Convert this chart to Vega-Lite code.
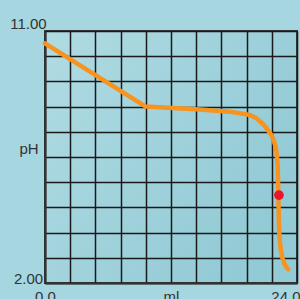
{
  "$schema": "https://vega.github.io/schema/vega-lite/v6.json",
  "width": 252,
  "height": 252,
  "autosize": "none",
  "padding": {"left": 45, "top": 31, "right": 3, "bottom": 16},
  "background": "#a6d6df",
  "config": {
    "view": {
      "stroke": "#3a3a3a",
      "strokeWidth": 2,
      "fill": {
        "gradient": "linear",
        "x1": 0, "y1": 0, "x2": 1, "y2": 0.6,
        "stops": [
          {"offset": 0, "color": "#b0dbe3"},
          {"offset": 1, "color": "#92cad5"}
        ]
      }
    },
    "axis": {
      "labelFont": "Liberation Sans",
      "titleFont": "Liberation Sans",
      "labelFontSize": 15,
      "titleFontSize": 15,
      "labelColor": "#333333",
      "titleColor": "#333333",
      "titleFontWeight": "normal",
      "gridColor": "#1a1a1a",
      "gridWidth": 1.5,
      "gridOpacity": 1,
      "domainColor": "#333333",
      "domainWidth": 2,
      "ticks": false,
      "tickSize": 0
    }
  },
  "data": {
    "values": [
      {"ml": 0, "pH": 10.56},
      {"ml": 9.59, "pH": 8.30},
      {"ml": 14.74, "pH": 8.20},
      {"ml": 17.61, "pH": 8.12},
      {"ml": 19.51, "pH": 8.0},
      {"ml": 20.1, "pH": 7.89},
      {"ml": 20.47, "pH": 7.78},
      {"ml": 20.9, "pH": 7.62},
      {"ml": 21.23, "pH": 7.46},
      {"ml": 21.52, "pH": 7.3},
      {"ml": 21.74, "pH": 7.14},
      {"ml": 21.92, "pH": 6.92},
      {"ml": 22.06, "pH": 6.66},
      {"ml": 22.16, "pH": 6.21},
      {"ml": 22.22, "pH": 5.21},
      {"ml": 22.28, "pH": 4.01},
      {"ml": 22.36, "pH": 3.5},
      {"ml": 22.47, "pH": 3.16},
      {"ml": 22.62, "pH": 2.88},
      {"ml": 22.79, "pH": 2.7},
      {"ml": 22.98, "pH": 2.57},
      {"ml": 23.17, "pH": 2.49}
    ]
  },
  "encoding": {
    "x": {
      "field": "ml", "type": "quantitative",
      "scale": {"domain": [0, 24], "nice": false, "zero": false},
      "axis": {
        "title": "ml",
        "values": [0, 2.4, 4.8, 7.2, 9.6, 12, 14.4, 16.8, 19.2, 21.6, 24],
        "labelExpr": "datum.value == 0 || datum.value == 24 ? format(datum.value, '.1f') : ''",
        "labelPadding": 6,
        "labelBaseline": "top",
        "labelAlign": {"condition": {"test": "datum.value == 24", "value": "right"}, "value": "center"},
        "labelOffset": {"condition": {"test": "datum.value == 24", "value": 3}, "value": 0},
        "labelFlush": false,
        "labelOverlap": false,
        "titlePadding": 0,
        "titleBaseline": "top",
        "titleY": 6
      }
    },
    "y": {
      "field": "pH", "type": "quantitative",
      "scale": {"domain": [2, 11], "nice": false, "zero": false},
      "axis": {
        "title": "pH",
        "values": [2, 2.9, 3.8, 4.7, 5.6, 6.5, 7.4, 8.3, 9.2, 10.1, 11],
        "labelExpr": "datum.value == 2 || datum.value == 11 ? format(datum.value, '.2f') : ''",
        "labelAlign": "center",
        "labelPadding": 17,
        "labelBaseline": {"condition": {"test": "datum.value == 11", "value": "bottom"}, "value": "alphabetic"},
        "labelFlush": false,
        "labelOverlap": false,
        "titleAngle": 0,
        "titleAlign": "center",
        "titleBaseline": "alphabetic",
        "titleX": -16.5,
        "titleY": 122
      }
    }
  },
  "layer": [
    {
      "mark": {"type": "line", "color": "#f7931e", "strokeWidth": 4.5, "strokeCap": "round", "strokeJoin": "round", "interpolate": "linear"}
    },
    {
      "data": {"values": [{"ml": 22.28, "pH": 5.14}]},
      "mark": {"type": "point", "filled": true, "color": "#e8152b", "size": 95, "opacity": 1}
    }
  ]
}
